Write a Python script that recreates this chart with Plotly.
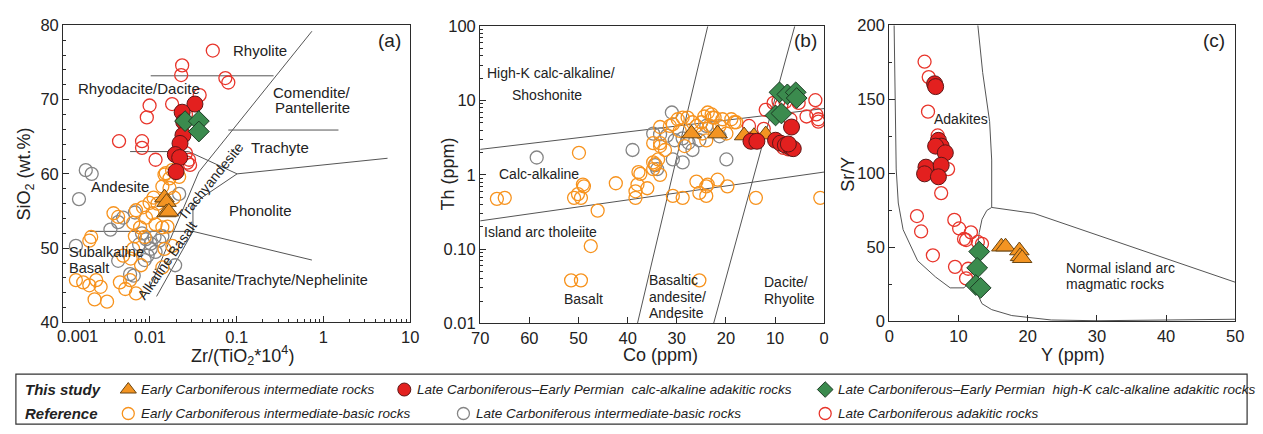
import plotly.graph_objects as go

W, H = 1263, 434

# ---------------- Panel (a): Zr/TiO2 vs SiO2 ----------------
a_ecib_x = [0.0147, 0.0152, 0.0168, 0.0217, 0.0139, 0.0168, 0.0110, 0.0190, 0.0099, 0.0122,
            0.0083, 0.0069, 0.0038, 0.0043, 0.0107, 0.0090, 0.0064, 0.0077, 0.0116, 0.0139,
            0.0159, 0.0021, 0.0020, 0.0067, 0.0087, 0.0064, 0.0147, 0.0181, 0.0049, 0.0060,
            0.0079, 0.0139, 0.0014, 0.0017, 0.0020, 0.0024, 0.0027, 0.0023, 0.0032, 0.0045,
            0.0052, 0.0069, 0.0059, 0.0180]
a_ecib_y = [59.9, 60.1, 59.4, 59.6, 58.3, 58.1, 56.8, 56.8, 56.1, 56.0,
            55.5, 55.1, 54.7, 54.2, 54.7, 54.1, 53.4, 52.8, 53.2, 52.8,
            52.9, 51.5, 51.0, 51.6, 51.5, 49.9, 49.9, 50.3, 49.0, 48.6,
            47.7, 47.4, 45.7, 45.4, 45.0, 45.7, 44.8, 43.1, 42.8, 45.4,
            44.5, 43.9, 45.7, 60.5]
a_lcib_x = [0.00182, 0.00213, 0.00152, 0.00140, 0.0035, 0.0043, 0.0049, 0.0067, 0.0090, 0.0102,
            0.0113, 0.0128, 0.0102, 0.0116, 0.0094, 0.0087, 0.0043, 0.0059, 0.0195, 0.0139,
            0.0217, 0.0065, 0.0081, 0.0075]
a_lcib_y = [60.5, 60.0, 56.6, 50.3, 52.5, 53.5, 54.1, 54.8, 51.2, 50.6,
            51.5, 51.0, 49.9, 49.5, 49.0, 48.4, 48.3, 46.5, 47.7, 51.6,
            57.3, 46.3, 52.0, 50.5]
a_lcad_x = [0.053, 0.0235, 0.0229, 0.074, 0.080, 0.0374, 0.0099, 0.0092, 0.018, 0.026,
            0.0044, 0.0081, 0.0081, 0.0116, 0.0282, 0.029, 0.026, 0.027]
a_lcad_y = [76.6, 74.6, 73.3, 72.9, 72.3, 70.6, 69.2, 67.6, 69.4, 68.0,
            64.4, 64.4, 63.5, 61.9, 61.9, 61.2, 62.8, 61.5]
a_ca_x = [0.033, 0.0235, 0.0245, 0.024, 0.0222, 0.0196, 0.022, 0.020]
a_ca_y = [69.4, 68.3, 67.0, 65.2, 64.1, 62.6, 62.2, 60.3]
a_hk_x = [0.0254, 0.0366, 0.0366]
a_hk_y = [67.1, 67.1, 65.7]
a_ec_x = [0.0147, 0.0155, 0.0155, 0.0165]
a_ec_y = [56.8, 56.2, 54.8, 54.9]

# Winchester & Floyd field boundaries
wf_lines = [
    ([0.0102, 0.266], [73.2, 73.2]),                          # rhyolite / rhyodacite
    ([0.0059, 0.028, 0.101], [63.0, 63.0, 60.0]),             # rhyodacite / andesite, trachyte base
    ([0.101, 5.48], [60.0, 62.1]),                            # trachyte / phonolite
    ([0.080, 1.49], [65.9, 65.9]),                            # comendite / trachyte
    ([0.736, 0.0366, 0.0102], [79.2, 60.26, 45.0]),           # subalkaline / alkaline divide
    ([0.101, 0.0313, 0.0313], [60.0, 56.0, 52.26]),           # trachyandesite / phonolite
    ([0.00202, 0.0313], [52.26, 52.26]),                      # andesite / basalt
    ([0.0313, 0.736], [52.26, 48.4]),                         # phonolite / basanite
    ([0.0313, 0.01192], [52.26, 43.5]),                       # alkaline basalt / basanite
]

# ---------------- Panel (b): Co vs Th ----------------
b_ecib_x = [27.8, 23.7, 22.9, 22.3, 25.0, 23.3, 18.9, 17.9, 19.9, 24.0,
            24.8, 29.4, 33.4, 31.4, 34.8, 33.4, 28.4, 34.4, 37.4, 33.4,
            38.0, 36.0, 42.4, 49.1, 50.1, 50.9, 49.5, 38.4, 38.4, 26.0,
            24.0, 21.7, 19.7, 25.4, 30.8, 28.8, 24.0, 13.9, 0.8, 49.9,
            37.8, 66.6, 65.0, 48.9, 46.1, 47.5, 51.5, 49.5, 25.4, 34.8,
            34.8, 33.8, 32.4, 33.4, 29.8, 28.8, 26.8, 26.0, 24.4, 22.7,
            21.3, 20.7, 18.3, 30.8, 23.7]
b_ecib_y = [5.9, 6.9, 6.5, 5.9, 5.1, 4.55, 5.6, 5.1, 3.6, 2.9,
            3.6, 3.9, 4.4, 4.55, 2.67, 2.44, 2.44, 1.39, 1.03, 1.0,
            0.74, 0.66, 0.77, 0.74, 0.55, 0.49, 0.49, 0.60, 0.49, 0.81,
            0.70, 0.86, 0.70, 0.57, 0.52, 0.49, 0.52, 0.49, 0.49, 1.98,
            1.09, 0.475, 0.49, 0.70, 0.33, 0.11, 0.038, 0.038, 0.038, 1.47,
            1.19, 1.61, 2.16, 2.67, 5.6, 5.9, 5.1, 4.55, 6.1, 5.9,
            4.55, 5.6, 5.1, 4.8, 0.74]
b_lcib_x = [31.0, 34.8, 33.4, 32.0, 30.4, 28.8, 26.8, 25.4, 24.0, 22.7,
            21.3, 39.0, 58.5, 30.8, 28.8, 19.9, 34.0, 34.4, 27.6]
b_lcib_y = [6.9, 3.59, 3.5, 3.37, 2.92, 3.1, 2.16, 2.92, 4.55, 4.4,
            3.3, 2.16, 1.71, 1.61, 1.47, 1.61, 1.19, 1.35, 2.7]
b_lcad_x = [11.9, 15.3, 12.3, 10.3, 8.7, 7.9, 6.9, 5.2, 1.8, 1.6,
            3.6, 1.2, 1.2, 8.3, 7.3, 9.3]
b_lcad_y = [7.5, 4.55, 4.16, 9.3, 8.7, 9.6, 5.6, 9.3, 10.1, 6.5,
            6.1, 5.6, 5.2, 2.3, 2.2, 9.8]
b_ca_x = [6.65, 14.9, 13.7, 9.9, 8.9, 7.9, 6.7, 6.3, 7.3]
b_ca_y = [4.4, 2.83, 2.83, 2.92, 2.67, 2.51, 2.30, 2.25, 2.6]
b_hk_x = [9.1, 7.5, 5.8, 5.6, 9.9, 8.7]
b_hk_y = [12.9, 12.1, 12.9, 10.8, 6.3, 6.7]
b_ec_x = [27.0, 21.7, 16.3, 14.3, 11.9]
b_ec_y = [3.59, 3.59, 3.38, 3.3, 3.48]

# Hastie et al. field boundaries
hastie_lines = [
    ([70, 0], [2.2, 7.8]),
    ([70, 0], [0.24, 1.09]),
    ([38.0, 23.7], [0.01, 100]),
    ([22.5, 6.0], [0.01, 100]),
]

# ---------------- Panel (c): Y vs Sr/Y ----------------
c_lcad_x = [5.1, 5.7, 5.6, 7.0, 8.5, 7.5, 4.0, 4.6, 6.3, 9.4,
            10.1, 11.1, 11.8, 13.4, 12.8, 9.5, 11.4, 11.1, 10.8]
c_lcad_y = [175.4, 165.0, 141.7, 125.6, 102.9, 86.7, 71.2, 60.8, 44.7, 68.6,
            62.8, 55.0, 60.2, 52.4, 53.7, 36.9, 35.6, 29.1, 55.7]
c_ca_x = [6.55, 6.7, 7.1, 7.5, 6.7, 8.1, 5.3, 5.1, 7.5, 7.1]
c_ca_y = [160.5, 158.6, 122.3, 118.4, 118.4, 113.9, 104.2, 99.7, 105.5, 97.7]
c_hk_x = [13.0, 12.7, 12.5, 13.2]
c_hk_y = [47.2, 36.2, 24.6, 22.7]
c_ec_x = [16.2, 16.8, 18.8, 18.9, 19.2]
c_ec_y = [50.5, 50.5, 47.9, 44.0, 42.7]

adakite_x = [0.7, 1.0, 1.3, 2.0, 4.1, 6.7, 8.8, 10.8, 12.3, 12.6, 13.0, 13.4, 14.1, 14.8, 14.8, 14.5, 13.5, 12.8]
adakite_y = [200, 103, 80, 62, 41, 30, 22.7, 22.7, 30, 45, 60, 69, 75, 77, 109, 135, 168, 200]
arc_low_x = [12.3, 12.6, 13.4, 14.8, 17.7, 23.4, 30, 50]
arc_low_y = [30, 20, 12, 8, 4, 1.0, 0.5, 1.5]
arc_top_x = [14.8, 20.9, 50]
arc_top_y = [77, 73, 26.5]

# ---------------- styles ----------------
FONT = "Liberation Sans, Arial, sans-serif"
ORANGE = "#F7931E"
GRAY = "#858585"
RED_O = "#E8352B"
RED_F = "#E3201F"
GREEN = "#3B8B4E"
TRI = "#F39422"
LINE = "#555555"

styles = {
    "ecib": dict(symbol="circle-open", size=13, color=ORANGE, line=dict(width=1.3, color=ORANGE)),
    "lcib": dict(symbol="circle-open", size=13, color=GRAY, line=dict(width=1.3, color=GRAY)),
    "lcad": dict(symbol="circle-open", size=13, color=RED_O, line=dict(width=1.3, color=RED_O)),
    "ec": dict(symbol="triangle-up", size=17, color=TRI, line=dict(width=1, color="#6a4512")),
    "ca": dict(symbol="circle", size=16, color=RED_F, line=dict(width=1, color="#5e1616")),
    "hk": dict(symbol="diamond", size=16, color=GREEN, line=dict(width=1, color="#1c3b24")),
}

fig = go.Figure()


def pts(x, y, key, xa, ya):
    fig.add_trace(go.Scatter(x=x, y=y, mode="markers", marker=styles[key],
                             xaxis=xa, yaxis=ya, showlegend=False, hoverinfo="skip"))


def ln(x, y, xa, ya):
    fig.add_trace(go.Scatter(x=x, y=y, mode="lines", line=dict(color=LINE, width=1),
                             xaxis=xa, yaxis=ya, showlegend=False, hoverinfo="skip"))


for lx, ly in wf_lines:
    ln(lx, ly, "x", "y")
for lx, ly in hastie_lines:
    ln(lx, ly, "x2", "y2")
ln(adakite_x, adakite_y, "x3", "y3")
ln(arc_low_x, arc_low_y, "x3", "y3")
ln(arc_top_x, arc_top_y, "x3", "y3")

for ax, ay, data in [
    ("x", "y", [(a_lcib_x, a_lcib_y, "lcib"), (a_ecib_x, a_ecib_y, "ecib"), (a_lcad_x, a_lcad_y, "lcad"),
                (a_ec_x, a_ec_y, "ec"), (a_ca_x, a_ca_y, "ca"), (a_hk_x, a_hk_y, "hk")]),
    ("x2", "y2", [(b_lcib_x, b_lcib_y, "lcib"), (b_ecib_x, b_ecib_y, "ecib"), (b_lcad_x, b_lcad_y, "lcad"),
                  (b_ec_x, b_ec_y, "ec"), (b_ca_x, b_ca_y, "ca"), (b_hk_x, b_hk_y, "hk")]),
    ("x3", "y3", [(c_lcad_x, c_lcad_y, "lcad"), (c_ec_x, c_ec_y, "ec"), (c_ca_x, c_ca_y, "ca"),
                  (c_hk_x, c_hk_y, "hk")]),
]:
    for dx, dy, key in data:
        pts(dx, dy, key, ax, ay)

# ---------------- legend ----------------
leg_rows = {"top": 37, "bottom": 12}
leg_items = [
    ("ec", 121, "top", "Early Carboniferous intermediate rocks"),
    ("ca", 401, "top", "Late Carboniferous\u2013Early Permian  calc-alkaline adakitic rocks"),
    ("hk", 828, "top", "Late Carboniferous\u2013Early Permian  high-K calc-alkaline adakitic rocks"),
    ("ecib", 121, "bottom", "Early Carboniferous intermediate-basic rocks"),
    ("lcib", 461, "bottom", "Late Carboniferous intermediate-basic rocks"),
    ("lcad", 828, "bottom", "Late Carboniferous adakitic rocks"),
]
annotations = []
for key, lx, row, label in leg_items:
    st = dict(styles[key])
    st["size"] = {"ec": 14, "ca": 13, "hk": 12}.get(key, 12)
    fig.add_trace(go.Scatter(x=[lx], y=[leg_rows[row]], mode="markers", marker=st,
                             xaxis="x4", yaxis="y4", showlegend=False, hoverinfo="skip"))
    annotations.append(dict(x=lx + 11, y=leg_rows[row], xref="x4", yref="y4",
                            text="<i>" + label + "</i>",
                            showarrow=False, xanchor="left", yanchor="middle",
                            font=dict(family=FONT, size=13.5, color="#222")))
for txt, row in [("This study", "top"), ("Reference", "bottom")]:
    annotations.append(dict(x=14, y=leg_rows[row], xref="x4", yref="y4", text="<b><i>" + txt + "</i></b>",
                            showarrow=False, xanchor="left", yanchor="middle",
                            font=dict(family=FONT, size=15, color="#222")))


def lab(x, y, text, xr, yr, size=14, anchor="center", angle=0):
    annotations.append(dict(x=x, y=y, xref=xr, yref=yr, text=text, showarrow=False,
                            xanchor=anchor, yanchor="middle", textangle=angle,
                            font=dict(family=FONT, size=size, color="#222")))


# panel (a) field names (x in log10 units)
SA = 15
lab(-0.73, 76.6, "Rhyolite", "x", "y", SA)
lab(-2.13, 71.5, "Rhyodacite/Dacite", "x", "y", SA)
lab(-0.13, 71.0, "Comendite/", "x", "y", SA)
lab(-0.13, 68.9, "Pantellerite", "x", "y", SA)
lab(-0.50, 63.5, "Trachyte", "x", "y", SA)
lab(-2.34, 58.3, "Andesite", "x", "y", SA)
lab(-1.30, 59.0, "Trachyandesite", "x", "y", 14, angle=-51)
lab(-0.73, 55.1, "Phonolite", "x", "y", SA)
lab(-2.955, 49.45, "Subalkaline", "x", "y", 14.5, anchor="left")
lab(-2.955, 47.3, "Basalt", "x", "y", 14.5, anchor="left")
lab(-1.80, 48.4, "Alkaline Basalt", "x", "y", 14, angle=-55)
lab(-0.60, 45.7, "Basanite/Trachyte/Nephelinite", "x", "y", 14.5)
lab(0.76, 77.9, "(a)", "x", "y", size=19)

# panel (b) field names (y in log10 units)
lab(55.5, 1.368, "High-K calc-alkaline/", "x2", "y2")
lab(56.5, 1.071, "Shoshonite", "x2", "y2")
lab(58.1, 0.013, "Calc-alkaline", "x2", "y2")
lab(57.7, -0.774, "Island arc tholeiite", "x2", "y2")
lab(48.9, -1.677, "Basalt", "x2", "y2")
lab(36.0, -1.419, "Basaltic", "x2", "y2", anchor="left")
lab(36.0, -1.639, "andesite/", "x2", "y2", anchor="left")
lab(36.0, -1.858, "Andesite", "x2", "y2", anchor="left")
lab(12.7, -1.445, "Dacite/", "x2", "y2", anchor="left")
lab(12.7, -1.665, "Rhyolite", "x2", "y2", anchor="left")
lab(3.8, 1.806, "(b)", "x2", "y2", size=19)

# panel (c) field names
lab(10.3, 136.6, "Adakites", "x3", "y3")
lab(25.2, 35.8, "Normal island arc", "x3", "y3", anchor="left")
lab(25.2, 25.0, "magmatic rocks", "x3", "y3", anchor="left")
lab(46.9, 189.6, "(c)", "x3", "y3", size=19)

# first x tick label of panel (a), nudged clear of the "40" label
annotations.append(dict(x=69 / W, y=1 - 330 / H, xref="paper", yref="paper", text="0.001",
                        showarrow=False, xanchor="center", yanchor="top",
                        font=dict(family=FONT, size=16.5, color="#222")))

# axis titles
TITLE = dict(family=FONT, size=18, color="#222")
for x, y, t, ang in [
    (17, 172, "SiO<sub>2</sub> (wt.%)", -90),
    (237, 361, "Zr/(TiO<sub>2</sub>*10<sup>4</sup>)", 0),
    (445, 172, "Th (ppm)", -90),
    (661, 361, "Co (ppm)", 0),
    (851, 172, "Sr/Y", -90),
    (1079, 361, "Y (ppm)", 0),
]:
    annotations.append(dict(x=x / W, y=1 - y / H, xref="paper", yref="paper", text=t,
                            showarrow=False, xanchor="center", yanchor="middle", textangle=ang,
                            font=TITLE))

# ---------------- axes ----------------
base = dict(showline=True, linecolor="#2b2b2b", linewidth=1.3, mirror=True, ticks="inside",
            ticklen=6, tickwidth=1, tickcolor="#2b2b2b", showgrid=False, zeroline=False,
            tickfont=dict(family=FONT, size=16.5, color="#222"))
log_minor = [m * 10 ** e for e in range(-3, 2) for m in range(2, 10)]


def dom_x(a, b):
    return [a / W, b / W]


def dom_y(top, bottom):
    return [1 - bottom / H, 1 - top / H]


fig.update_layout(
    width=W, height=H, margin=dict(l=0, r=0, t=0, b=0),
    paper_bgcolor="white", plot_bgcolor="white", showlegend=False,
    xaxis=dict(base, domain=dom_x(55, 407), anchor="y", type="log", range=[-3, 1],
               tickvals=[0.001, 0.01, 0.1, 1, 10],
               ticktext=["", "0.01", "0.1", "1", "10"],
               minor=dict(tickvals=log_minor, ticks="inside", ticklen=3, tickcolor="#2b2b2b")),
    yaxis=dict(base, domain=dom_y(17, 327), anchor="x", range=[40, 80], dtick=10,
               minor=dict(dtick=2, ticks="inside", ticklen=3, tickcolor="#2b2b2b")),
    xaxis2=dict(base, domain=dom_x(478, 827), anchor="y2", range=[70, 0], dtick=10),
    yaxis2=dict(base, domain=dom_y(18, 328), anchor="x2", type="log", range=[-2, 2],
                tickvals=[0.01, 0.1, 1, 10, 100], ticktext=["0.01", "0.10", "1", "10", "100"],
                minor=dict(tickvals=[m * 10 ** e for e in range(-2, 2) for m in range(2, 10)],
                           ticks="inside", ticklen=3, tickcolor="#2b2b2b")),
    xaxis3=dict(base, domain=dom_x(893, 1244), anchor="y3", range=[0, 50], dtick=10),
    yaxis3=dict(base, domain=dom_y(17, 326), anchor="x3", range=[0, 200], dtick=50,
                minor=dict(dtick=25, ticks="inside", ticklen=3, tickcolor="#2b2b2b")),
    xaxis4=dict(domain=[0, 1], anchor="y4", range=[0, W], visible=False, fixedrange=True),
    yaxis4=dict(domain=[0, 54 / H], anchor="x4", range=[0, 54], visible=False, fixedrange=True),
    annotations=annotations,
    shapes=[dict(type="rect", xref="paper", yref="paper", x0=7 / W, x1=1256 / W,
                 y0=1 / H, y1=(H - 381) / H, line=dict(color="#333", width=1.2))],
)

fig.write_html("out.html")
